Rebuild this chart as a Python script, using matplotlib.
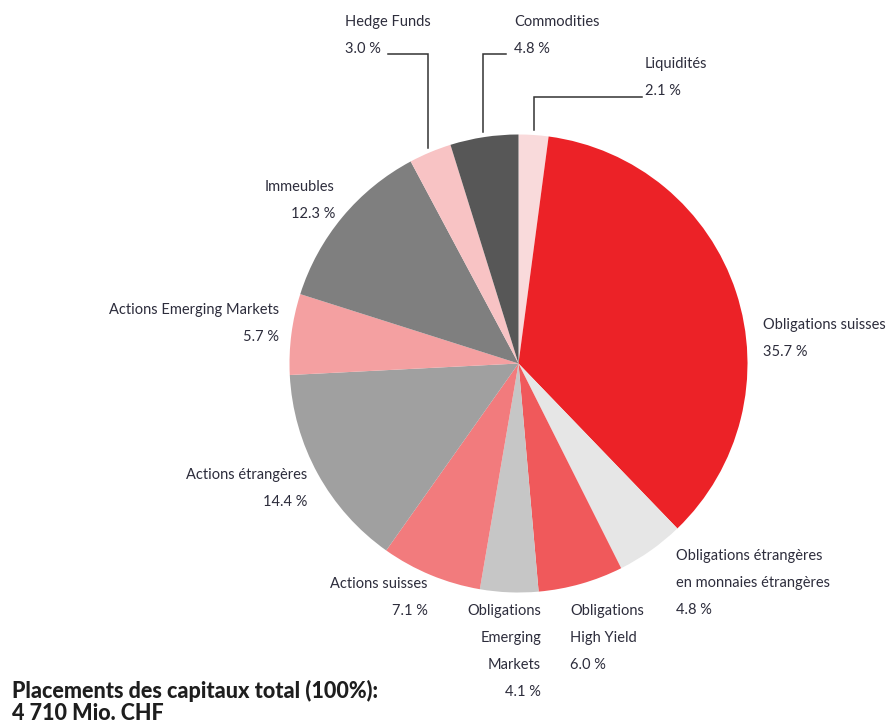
import matplotlib.pyplot as plt
import numpy as np

plt.rcParams['font.family'] = ['Lato', 'DejaVu Sans']

# asset allocation, clockwise from the top
categories = [
    "Liquidités",
    "Obligations suisses",
    "Obligations étrangères\nen monnaies étrangères",
    "Obligations\nHigh Yield",
    "Obligations\nEmerging\nMarkets",
    "Actions suisses",
    "Actions étrangères",
    "Actions Emerging Markets",
    "Immeubles",
    "Hedge Funds",
    "Commodities",
]
shares = [2.1, 35.7, 4.8, 6.0, 4.1, 7.1, 14.4, 5.7, 12.3, 3.0, 4.8]
colors = ["#f9dadb", "#ec2227", "#e6e6e6", "#f0595b", "#c6c6c6", "#f27b7d",
          "#a0a0a0", "#f4a0a1", "#7f7f7f", "#f8c3c4", "#575757"]

footer = ["Placements des capitaux total (100%):", "4 710 Mio. CHF"]

W, H = 890, 726
txt_col = "#2d2d3c"
fs = 10.5
lh = 27  # line height in px

fig = plt.figure(figsize=(W / 100, H / 100), dpi=100)
ax = fig.add_axes([0, 0, 1, 1])

cx, cy, r = 518.5, 363.5, 229
# y axis is flipped below, so start at -90 and run counterclock in data
# space, which ends up clockwise from twelve o'clock on screen
wedges, _ = ax.pie(shares, colors=colors, startangle=-90, counterclock=True,
                   radius=r, center=(cx, cy), frame=True)
ax.set_xlim(0, W)
ax.set_ylim(H, 0)
ax.set_aspect("equal")
ax.axis("off")

# label anchors: (x, y of first line, alignment)
label_pos = {
    "Liquidités": (645, 64, "left"),
    "Obligations suisses": (763, 325, "left"),
    "Obligations étrangères\nen monnaies étrangères": (676, 556, "left"),
    "Obligations\nHigh Yield": (570, 611, "left"),
    "Obligations\nEmerging\nMarkets": (541, 611, "right"),
    "Actions suisses": (428, 584, "right"),
    "Actions étrangères": (307, 475, "right"),
    "Actions Emerging Markets": (279, 310, "right"),
    "Immeubles": (335, 187, "right"),
    "Hedge Funds": (345, 22, "left"),
    "Commodities": (514, 22, "left"),
}

for cat, val in zip(categories, shares):
    x, y, ha = label_pos[cat]
    lines = cat.split("\n") + [f"{val:.1f} %"]
    for i, s in enumerate(lines):
        ax.text(x, y + i * lh, s, ha=ha, va="center", fontsize=fs, color=txt_col)

# leader lines for the three small slices at the top
def mid_point(k, rad):
    w = wedges[k]
    a = np.deg2rad((w.theta1 + w.theta2) / 2)
    return cx + rad * np.cos(a), cy + rad * np.sin(a)

leaders = {  # slice index -> (y of horizontal, x end of horizontal)
    9: (54, 388),
    10: (54, 506),
    0: (97, 642),
}
for k, (ly, lx) in leaders.items():
    px, py = mid_point(k, r + 5)
    px = round(px)
    ax.plot([px, px, lx], [py, ly, ly], color="#333333", lw=1.1,
            solid_joinstyle="miter")

ax.text(12, 691, footer[0], ha="left", va="center", fontsize=15.5,
        fontweight="black", color="#1e1e1e")
ax.text(12, 714, footer[1], ha="left", va="center", fontsize=15.5,
        fontweight="black", color="#1e1e1e")

fig.savefig("out.png", dpi=100)
